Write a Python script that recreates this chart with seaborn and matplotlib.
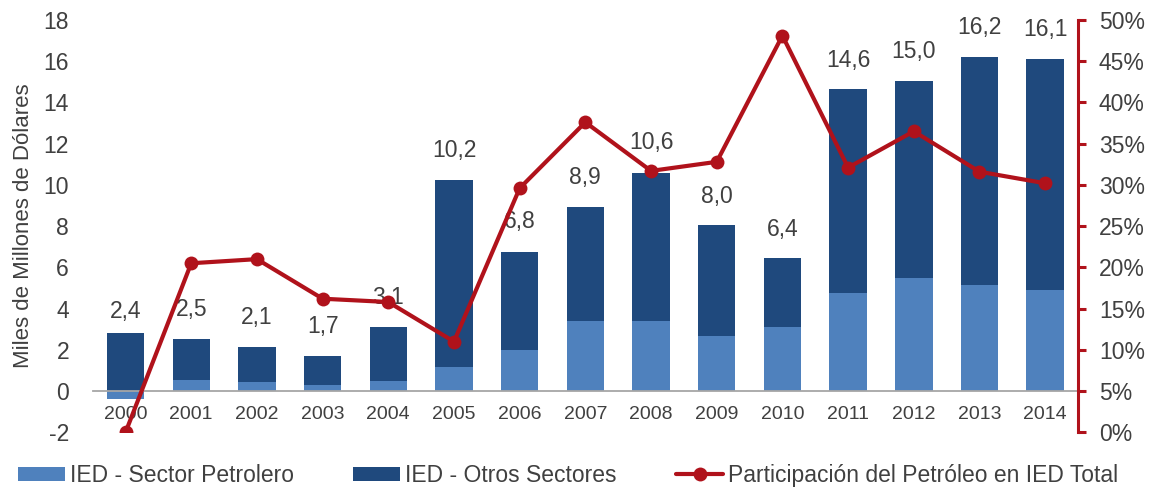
import numpy as np
import pandas as pd
import matplotlib
matplotlib.use('Agg')
import matplotlib.pyplot as plt
import seaborn as sns
from matplotlib.patches import Patch
from matplotlib.lines import Line2D
from matplotlib.ticker import PercentFormatter, MultipleLocator

years = ['2000', '2001', '2002', '2003', '2004', '2005', '2006', '2007',
         '2008', '2009', '2010', '2011', '2012', '2013', '2014']
petrolero = [-0.4, 0.55, 0.45, 0.3, 0.5, 1.15, 2.0, 3.38, 3.4, 2.67, 3.1, 4.75, 5.5, 5.15, 4.9]
otros = [2.8, 2.0, 1.7, 1.42, 2.6, 9.1, 4.77, 5.54, 7.2, 5.37, 3.35, 9.9, 9.55, 11.05, 11.2]
totales = [2.4, 2.5, 2.1, 1.7, 3.1, 10.2, 6.8, 8.9, 10.6, 8.0, 6.4, 14.6, 15.0, 16.2, 16.1]
participacion = [0.0, 20.5, 21.0, 16.2, 15.8, 11.0, 29.6, 37.6, 31.7, 32.8, 48.1, 32.1, 36.5, 31.6, 30.2]

LIGHT = '#4F81BD'
DARK = '#1F497D'
RED = '#B0121B'
TXT = '#404040'

sns.set_style('white')
plt.rcParams['font.family'] = ['Liberation Sans', 'DejaVu Sans']
plt.rcParams['axes.unicode_minus'] = False

df = pd.DataFrame({'year': years, 'petrolero': petrolero, 'otros': otros,
                   'total': totales, 'pct': np.array(participacion) / 100})
df['stack_top'] = df['petrolero'].clip(lower=0) + df['otros']

fig = plt.figure(figsize=(11.56, 4.9), dpi=100)
ax = fig.add_axes([92.7 / 1156, 1 - 432.3 / 490, (1078 - 92.7) / 1156, (432.3 - 20) / 490])

sns.barplot(data=df, x='year', y='stack_top', color=DARK, saturation=1, width=0.57,
            errorbar=None, ax=ax, zorder=2)
sns.barplot(data=df, x='year', y='petrolero', color=LIGHT, saturation=1, width=0.57,
            errorbar=None, ax=ax, zorder=3)
for p in ax.patches:
    p.set_edgecolor('none')

ax.set_xlim(-0.5, len(years) - 0.5)
ax.set_ylim(-2, 18)
ax.yaxis.set_major_locator(MultipleLocator(2))
ax.set_xlabel('')
ax.set_ylabel('Miles de Millones de Dólares', fontsize=16, color=TXT, labelpad=7)
for s in ['top', 'left', 'right']:
    ax.spines[s].set_visible(False)
ax.spines['bottom'].set_position(('data', 0))
ax.spines['bottom'].set_color('#A6A6A6')
ax.spines['bottom'].set_linewidth(1.3)
ax.spines['bottom'].set_zorder(4)
ax.tick_params(axis='x', length=0, pad=11, labelsize=14, labelcolor=TXT)
ax.tick_params(axis='y', length=0, pad=17, labelsize=16.5, labelcolor=TXT)

for i, tot in enumerate(df['total']):
    ax.annotate(f'{tot:.1f}'.replace('.', ','), xy=(i, tot), xytext=(0, 21.5),
                textcoords='offset points', ha='center', va='center',
                fontsize=16.5, color=TXT, zorder=5)

ax2 = ax.twinx()
sns.lineplot(x=np.arange(len(years)), y=df['pct'], ax=ax2, color=RED, linewidth=3,
             marker='o', markersize=10, markeredgewidth=0, zorder=6)
ax2.set_ylim(0, 0.5)
ax2.set_xlim(-0.5, len(years) - 0.5)
ax2.yaxis.set_major_locator(MultipleLocator(0.05))
ax2.yaxis.set_major_formatter(PercentFormatter(1.0, decimals=0))
ax2.set_ylabel('')
for s in ['top', 'left', 'bottom']:
    ax2.spines[s].set_visible(False)
ax2.spines['right'].set_color(RED)
ax2.spines['right'].set_linewidth(2.2)
ax2.tick_params(axis='y', colors=RED, length=6, width=2.2, pad=9, labelsize=16.5,
                labelcolor=TXT)
ax2.grid(False)
ax.grid(False)

handles = [Patch(facecolor=LIGHT, edgecolor='none'),
           Patch(facecolor=DARK, edgecolor='none'),
           Line2D([0], [0], color=RED, linewidth=3, marker='o', markersize=10,
                  markeredgewidth=0)]
labels = ['IED - Sector Petrolero', 'IED - Otros Sectores',
          'Participación del Petróleo en IED Total']
fig.legend(handles, labels, loc='center left', bbox_to_anchor=(17.7 / 1156, 1 - 475.5 / 490),
           ncol=3, frameon=False, fontsize=16.5, handlelength=2.05, handleheight=0.57,
           handletextpad=0.22, columnspacing=2.6, borderpad=0, borderaxespad=0,
           labelcolor=TXT)

fig.savefig('out.png', dpi=100)
